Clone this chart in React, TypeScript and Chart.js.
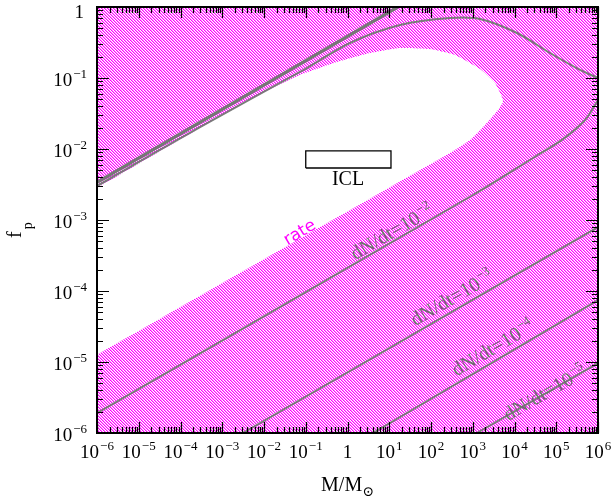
import React, { useEffect, useRef } from 'react';
import { Chart, registerables } from 'chart.js';

Chart.register(...registerables);

// ---- axis decades (log10) ----
const X_DECADES = [-6, -5, -4, -3, -2, -1, 0, 1, 2, 3, 4, 5, 6];
const Y_DECADES = [-6, -5, -4, -3, -2, -1, 0];

// ---- allowed (un-hatched) region outline ----
const allowedM = [1e-6, 1.86e-5, 2.93e-4, 4.62e-3, 0.0728, 0.661, 3.46, 18.1, 94.6, 376, 1493, 3414, 5023, 5309, 4027, 1965, 859, 285, 54.6, 1e-6];
const allowedF = [2.82e-3, 7.71e-3, 1.98e-2, 5.06e-2, 0.11, 0.173, 0.225, 0.265, 0.256, 0.211, 0.134, 0.0851, 0.054, 0.0459, 0.0354, 0.0218, 0.0134, 8.79e-3, 5.06e-3, 1.26e-5];

// ---- upper straight (thick) line ----
const upperLineM = [1e-6, 16];
const upperLineF = [3.4e-3, 1];

// ---- peaked curve ----
const peakM = [1e-6, 2.93e-4, 0.0728, 1.148, 18.1, 285, 1493, 11480, 70800, 370700, 1e6];
const peakF = [3.01e-3, 0.0204, 0.1215, 0.311, 0.557, 0.7, 0.678, 0.43, 0.225, 0.13, 0.1];

// ---- dN/dt contours ----
const rate2M = [1e-6, 1014, 27730, 145200, 488700, 1e6];
const rate2F = [1.91e-6, 2.25e-3, 7.47e-3, 0.0138, 0.0256, 0.049];
const rate3M = [3.14e-3, 1e6];
const rate3F = [1e-6, 7.96e-4];
const rate4M = [4.08, 1e6];
const rate4F = [1e-6, 7.46e-5];
const rate5M = [1259, 1e6];
const rate5F = [1e-6, 9.68e-6];

// ---- ICL box ----
const iclM = [0.1, 11, 11, 0.1, 0.1];
const iclF = [5.4e-3, 5.4e-3, 9.4e-3, 9.4e-3, 5.4e-3];

// ---- labels ----
const contourExp = ['\u22122', '\u22123', '\u22124', '\u22125'];
const contourLabelM = [11.6, 318, 3055, 53800];
const contourLabelF = [6.78e-4, 7.96e-5, 1.57e-5, 3.66e-6];
const rateLabelM = 0.0728;
const rateLabelF = 6.56e-4;
const iclLabelM = 1.03;
const iclLabelF = 3.66e-3;

const SERIF = '"Liberation Serif", "DejaVu Serif", serif';
const SANS = '"DejaVu Sans", "Liberation Sans", sans-serif';
const GRAY = 'rgb(122,122,122)';
const MAGENTA = 'rgb(255,0,255)';

const pts = (M: number[], F: number[]) => M.map((m, i) => ({ x: m, y: F[i] }));

function expStr(d: number) {
  return d < 0 ? '\u2212' + String(-d) : String(d);
}

function drawPow(ctx: CanvasRenderingContext2D, base: string, exp: string, x: number, y: number, size: number, align: string) {
  ctx.font = `${size}px ${SERIF}`;
  const wb = ctx.measureText(base).width;
  const ss = Math.round(size * 0.66);
  ctx.font = `${ss}px ${SERIF}`;
  const we = exp ? ctx.measureText(exp).width : 0;
  const gap = exp ? 1 : 0;
  const total = wb + gap + we;
  const x0 = align === 'center' ? x - total / 2 : align === 'right' ? x - total : x;
  ctx.textAlign = 'left';
  ctx.textBaseline = 'alphabetic';
  ctx.font = `${size}px ${SERIF}`;
  ctx.fillText(base, x0, y);
  if (exp) {
    ctx.font = `${ss}px ${SERIF}`;
    ctx.fillText(exp, x0 + wb + gap, y - size * 0.4);
  }
}

function makeHatch(): CanvasPattern | string {
  const P = 3;
  const greens = [0, 140, 255];
  const t = document.createElement('canvas');
  t.width = P;
  t.height = P;
  const c = t.getContext('2d');
  if (!c) return MAGENTA;
  const img = c.createImageData(P, P);
  for (let y = 0; y < P; y++) {
    for (let x = 0; x < P; x++) {
      const m = (((x - y) % P) + P) % P;
      const i = (y * P + x) * 4;
      img.data[i] = 255;
      img.data[i + 1] = greens[m];
      img.data[i + 2] = 255;
      img.data[i + 3] = 255;
    }
  }
  c.putImageData(img, 0, 0);
  return c.createPattern(t, 'repeat') || MAGENTA;
}

export default function App() {
  const ref = useRef<HTMLCanvasElement>(null);

  useEffect(() => {
    const canvas = ref.current;
    if (!canvas) return;
    const hatch = makeHatch();

    const overlay = {
      id: 'overlay',
      beforeDatasetsDraw(chart: any) {
        const { ctx, chartArea: a } = chart;
        ctx.save();
        ctx.fillStyle = '#fff';
        ctx.fillRect(a.left, a.top, a.right - a.left, a.bottom - a.top);
        ctx.fillStyle = hatch;
        ctx.fillRect(a.left, a.top, a.right - a.left, a.bottom - a.top);
        ctx.restore();
      },
      afterDatasetsDraw(chart: any) {
        const { ctx, chartArea: a } = chart;
        const xs = chart.scales.x;
        const ys = chart.scales.y;
        ctx.save();

        // contour labels
        ctx.fillStyle = 'rgb(110,110,110)';
        for (let i = 0; i < contourExp.length; i++) {
          const meta = chart.getDatasetMeta(i + 1);
          const p0 = meta.data[0];
          const p1 = meta.data[1];
          const ang = Math.atan2(p1.y - p0.y, p1.x - p0.x);
          const cx = xs.getPixelForValue(contourLabelM[i]);
          const cy = ys.getPixelForValue(contourLabelF[i]);
          ctx.save();
          ctx.translate(cx, cy);
          ctx.rotate(ang);
          drawPow(ctx, 'dN/dt=10', contourExp[i], 0, 6, 20, 'center');
          ctx.restore();
        }

        // rate label
        {
          const meta = chart.getDatasetMeta(3);
          const p0 = meta.data[0];
          const p1 = meta.data[1];
          const ang = Math.atan2(p1.y - p0.y, p1.x - p0.x);
          ctx.save();
          ctx.translate(xs.getPixelForValue(rateLabelM), ys.getPixelForValue(rateLabelF));
          ctx.rotate(ang);
          ctx.fillStyle = MAGENTA;
          ctx.font = `17px ${SANS}`;
          ctx.textAlign = 'center';
          ctx.textBaseline = 'middle';
          ctx.fillText('rate', 0, 0);
          ctx.restore();
        }

        // ICL label
        ctx.fillStyle = '#000';
        ctx.font = `20px ${SERIF}`;
        ctx.textAlign = 'center';
        ctx.textBaseline = 'middle';
        ctx.fillText('ICL', xs.getPixelForValue(iclLabelM), ys.getPixelForValue(iclLabelF));

        // frame
        ctx.strokeStyle = '#000';
        ctx.lineWidth = 2;
        ctx.strokeRect(a.left, a.top, a.right - a.left, a.bottom - a.top);

        // ticks
        ctx.lineWidth = 1.2;
        ctx.beginPath();
        for (const d of X_DECADES) {
          for (let k = 1; k <= 9; k++) {
            const v = k * Math.pow(10, d);
            if (v > 1e6 * 1.0001) break;
            const px = Math.round(xs.getPixelForValue(v)) + 0.5;
            const len = k === 1 ? 11 : 6;
            ctx.moveTo(px, a.bottom);
            ctx.lineTo(px, a.bottom - len);
            ctx.moveTo(px, a.top);
            ctx.lineTo(px, a.top + len);
          }
        }
        for (const d of Y_DECADES) {
          for (let k = 1; k <= 9; k++) {
            const v = k * Math.pow(10, d);
            if (v > 1.0001) break;
            const py = Math.round(ys.getPixelForValue(v)) + 0.5;
            const len = k === 1 ? 12 : 6;
            ctx.moveTo(a.left, py);
            ctx.lineTo(a.left + len, py);
            ctx.moveTo(a.right, py);
            ctx.lineTo(a.right - len, py);
          }
        }
        ctx.stroke();

        // tick labels
        ctx.fillStyle = '#000';
        for (const d of X_DECADES) {
          const px = xs.getPixelForValue(Math.pow(10, d));
          if (d === 0) drawPow(ctx, '1', '', px, 458, 19, 'center');
          else drawPow(ctx, '10', expStr(d), px, 458, 19, 'center');
        }
        for (const d of Y_DECADES) {
          const py = ys.getPixelForValue(Math.pow(10, d));
          const base = d === 0 ? py + 3 : py;
          if (d === 0) drawPow(ctx, '1', '', 84, base + 8, 19, 'right');
          else drawPow(ctx, '10', expStr(d), 87, base + 8, 19, 'right');
        }

        // x title  M/M_sun
        {
          ctx.font = `20px ${SERIF}`;
          const w1 = ctx.measureText('M/M').width;
          ctx.font = `14px ${SERIF}`;
          const w2 = ctx.measureText('\u2299').width;
          const x0 = (a.left + a.right) / 2 - (w1 + w2) / 2;
          ctx.textAlign = 'left';
          ctx.textBaseline = 'alphabetic';
          ctx.font = `20px ${SERIF}`;
          ctx.fillText('M/M', x0, 491);
          ctx.font = `14px ${SERIF}`;
          ctx.fillText('\u2299', x0 + w1, 496);
        }

        // y title f_p
        {
          ctx.save();
          ctx.translate(21, 238);
          ctx.rotate(-Math.PI / 2);
          ctx.textAlign = 'left';
          ctx.textBaseline = 'alphabetic';
          ctx.font = `20px ${SERIF}`;
          ctx.fillText('f', 0, 0);
          const wf = ctx.measureText('f').width;
          ctx.font = `14px ${SERIF}`;
          ctx.fillText('p', wf + 2, 11);
          ctx.restore();
        }

        ctx.restore();
      },
    };

    const common = { showLine: true, pointRadius: 0, pointHoverRadius: 0, fill: false };

    const chart = new Chart(canvas, {
      type: 'scatter',
      data: {
        datasets: [
          { ...common, label: 'ICL', data: pts(iclM, iclF), borderColor: '#000', borderWidth: 1.3 },
          { ...common, label: 'dN/dt=1e-2', data: pts(rate2M, rate2F), borderColor: GRAY, borderWidth: 2, tension: 0.3 },
          { ...common, label: 'dN/dt=1e-3', data: pts(rate3M, rate3F), borderColor: GRAY, borderWidth: 2 },
          { ...common, label: 'dN/dt=1e-4', data: pts(rate4M, rate4F), borderColor: GRAY, borderWidth: 2 },
          { ...common, label: 'dN/dt=1e-5', data: pts(rate5M, rate5F), borderColor: GRAY, borderWidth: 2 },
          { ...common, label: 'upper', data: pts(upperLineM, upperLineF), borderColor: 'rgb(118,118,118)', borderWidth: 3.2 },
          { ...common, label: 'peak', data: pts(peakM, peakF), borderColor: GRAY, borderWidth: 2, tension: 0.3 },
          {
            ...common,
            label: 'allowed',
            data: pts(allowedM, allowedF),
            borderWidth: 0,
            borderColor: 'rgba(0,0,0,0)',
            backgroundColor: '#fff',
            fill: 'shape',
            tension: 0.15,
          },
        ],
      } as any,
      options: {
        responsive: false,
        animation: false,
        devicePixelRatio: 1,
        events: [],
        layout: { padding: { left: 97, right: 15, top: 7, bottom: 69 } },
        plugins: { legend: { display: false }, tooltip: { enabled: false } },
        scales: {
          x: { type: 'logarithmic', min: 1e-6, max: 1e6, display: false },
          y: { type: 'logarithmic', min: 1e-6, max: 1, display: false },
        },
      } as any,
      plugins: [overlay],
    });

    return () => chart.destroy();
  }, []);

  return (
    <div style={{ position: 'fixed', left: 0, top: 0, width: 613, height: 502, background: '#fff' }}>
      <canvas ref={ref} width={613} height={502} style={{ display: 'block', width: 613, height: 502 }} />
    </div>
  );
}
